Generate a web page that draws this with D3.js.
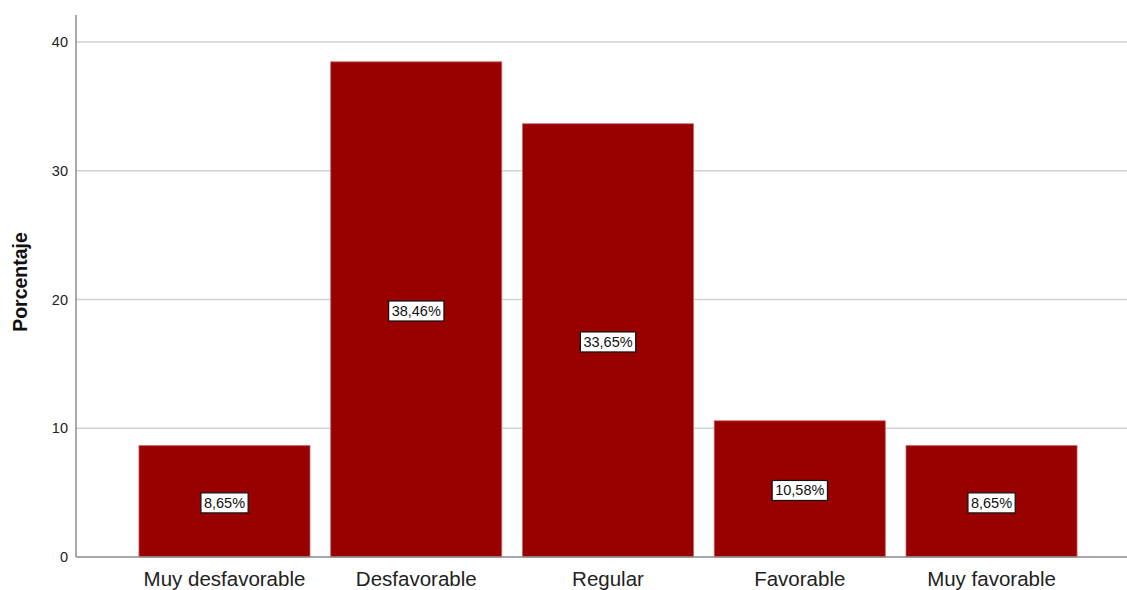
<!DOCTYPE html>
<html>
<head>
<meta charset="utf-8">
<script src="https://cdn.jsdelivr.net/npm/d3@7"></script>
<style>
  body { margin: 0; background: #fff; }
  text { font-family: "Liberation Sans", Arial, sans-serif; }
</style>
</head>
<body>
<div id="app"></div>
<script>
// ---------- Data ----------
const categories = ["Muy desfavorable", "Desfavorable", "Regular", "Favorable", "Muy favorable"];
const percentages = [8.65, 38.46, 33.65, 10.58, 8.65];
const yTicks = [0, 10, 20, 30, 40];

// ---------- Layout ----------
const WIDTH = 1127, HEIGHT = 590;
const AXIS_X = 76, AXIS_TOP = 15, ZERO_Y = 557, RIGHT = 1127;

const svg = d3.select("#app").append("svg")
    .attr("width", WIDTH)
    .attr("height", HEIGHT);

const scaleY = d3.scaleLinear()
    .domain([0, 40])
    .range([ZERO_Y, 42]);

const scaleX = d3.scaleBand()
    .domain(categories)
    .range([128.6, 1087.4])
    .paddingInner(0.108)
    .paddingOuter(0.054);

// gridlines
svg.append("g")
    .selectAll("line")
    .data(yTicks.filter(d => d > 0))
    .enter().append("line")
    .attr("x1", AXIS_X).attr("x2", RIGHT)
    .attr("y1", d => scaleY(d)).attr("y2", d => scaleY(d))
    .attr("stroke", "#d0d0d0")
    .attr("stroke-width", 1.5);

// bars
svg.append("g")
    .selectAll("rect")
    .data(percentages)
    .enter().append("rect")
    .attr("x", (d, i) => scaleX(categories[i]))
    .attr("y", d => scaleY(d))
    .attr("width", scaleX.bandwidth())
    .attr("height", d => ZERO_Y - scaleY(d))
    .attr("fill", "#990000")
    .attr("stroke", "#c86464")
    .attr("stroke-width", 0.8);

// axes
const axisLeft = d3.axisLeft(scaleY).tickValues(yTicks).tickSize(0).tickPadding(8);
const gy = svg.append("g")
    .attr("transform", `translate(${AXIS_X},0)`)
    .call(axisLeft);
gy.select(".domain").remove();
gy.selectAll("text").style("font-size", "14.5px").attr("fill", "#222");

svg.append("line")
    .attr("x1", AXIS_X).attr("x2", AXIS_X)
    .attr("y1", AXIS_TOP).attr("y2", ZERO_Y)
    .attr("stroke", "#8c8c8c").attr("stroke-width", 1.5);

const axisBottom = d3.axisBottom(scaleX).tickSize(0).tickPadding(14);
const gx = svg.append("g")
    .attr("transform", `translate(0,${ZERO_Y})`)
    .call(axisBottom);
gx.select(".domain").remove();
gx.selectAll("text").style("font-size", "20.5px").attr("fill", "#222");

svg.append("line")
    .attr("x1", AXIS_X).attr("x2", RIGHT)
    .attr("y1", ZERO_Y).attr("y2", ZERO_Y)
    .attr("stroke", "#8c8c8c").attr("stroke-width", 1.5);

// y label
svg.append("text")
    .attr("transform", `translate(27, ${282}) rotate(-90)`)
    .attr("text-anchor", "middle")
    .style("font-size", "19.5px")
    .style("font-weight", "bold")
    .attr("fill", "#111")
    .text("Porcentaje");

// value labels
const labels = svg.append("g")
    .selectAll("g")
    .data(percentages)
    .enter().append("g")
    .attr("transform", (d, i) => `translate(${scaleX(categories[i]) + scaleX.bandwidth() / 2}, ${scaleY(d / 2) + 1.5})`);

labels.append("text")
    .attr("text-anchor", "middle")
    .attr("dy", "0.35em")
    .style("font-size", "14.5px")
    .attr("fill", "#111")
    .text(d => d.toFixed(2).replace(".", ",") + "%");

labels.each(function() {
    const g = d3.select(this);
    const bb = g.select("text").node().getBBox();
    g.insert("rect", "text")
        .attr("x", bb.x - 3).attr("y", bb.y - 2)
        .attr("width", bb.width + 6).attr("height", bb.height + 4)
        .attr("fill", "#fff")
        .attr("stroke", "#111")
        .attr("stroke-width", 1.2);
});
</script>
</body>
</html>
